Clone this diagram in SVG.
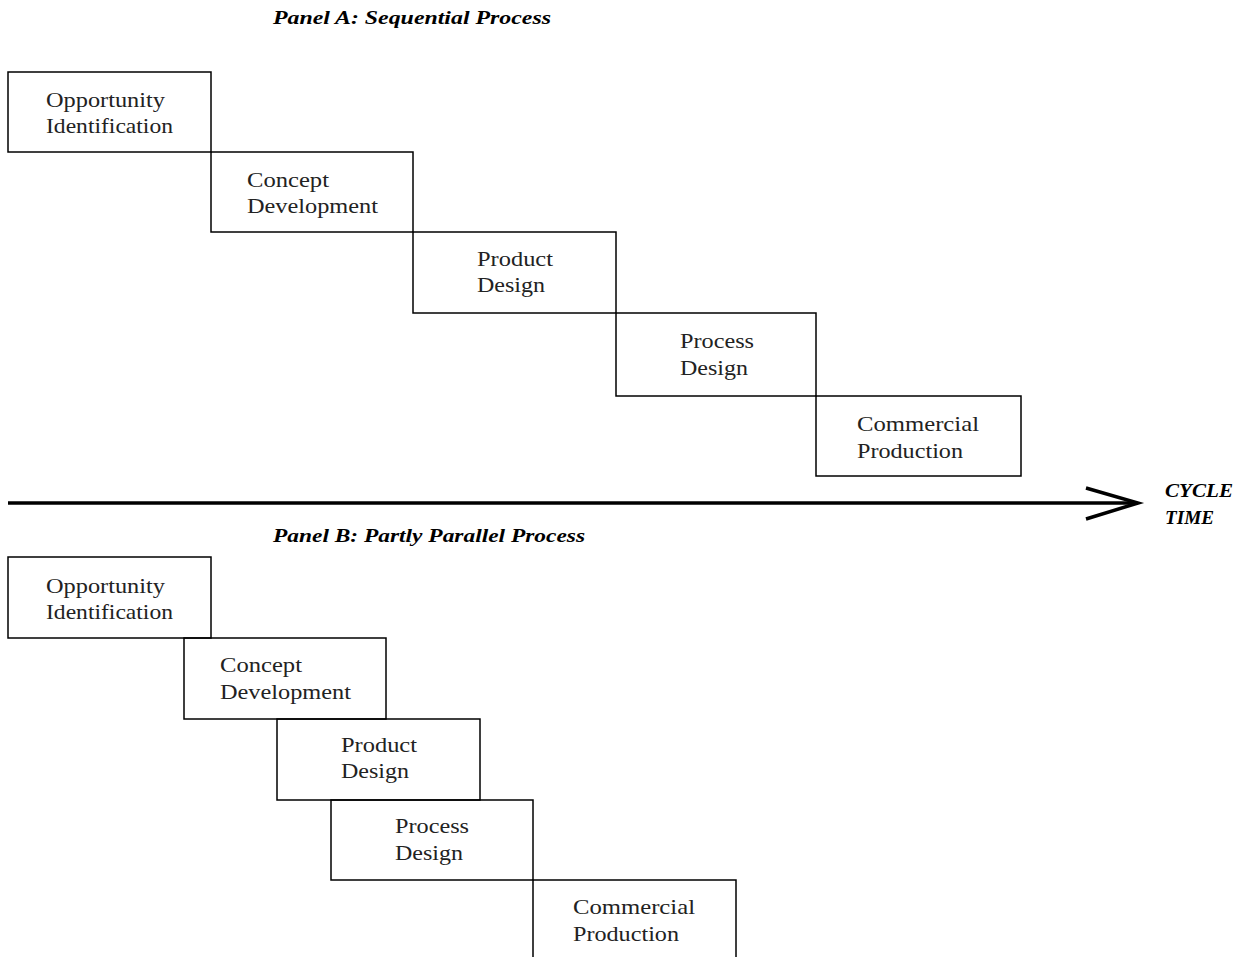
<svg xmlns="http://www.w3.org/2000/svg" width="1247" height="957" viewBox="0 0 1247 957">
<style>
.box{fill:none;stroke:#000;stroke-width:1.5}
.lbl{font-family:"Liberation Serif","DejaVu Serif",serif;font-size:22px;fill:#222}
.ttl{font-family:"Liberation Serif","DejaVu Serif",serif;font-size:19px;font-weight:bold;font-style:italic;fill:#000}
</style>
<rect width="1247" height="957" fill="#fff"/>
<text class="ttl" x="273" y="24" textLength="278" lengthAdjust="spacingAndGlyphs">Panel A: Sequential Process</text>
<text class="ttl" x="273" y="542" textLength="312" lengthAdjust="spacingAndGlyphs">Panel B: Partly Parallel Process</text>
<g id="a1"><rect class="box" x="8" y="72" width="203" height="80"/><text class="lbl" x="46" y="107" textLength="119" lengthAdjust="spacingAndGlyphs">Opportunity</text><text class="lbl" x="46" y="133" textLength="127" lengthAdjust="spacingAndGlyphs">Identification</text></g>
<g id="a2"><rect class="box" x="211" y="152" width="202" height="80"/><text class="lbl" x="247" y="187" textLength="82" lengthAdjust="spacingAndGlyphs">Concept</text><text class="lbl" x="247" y="213" textLength="131" lengthAdjust="spacingAndGlyphs">Development</text></g>
<g id="a3"><rect class="box" x="413" y="232" width="203" height="81"/><text class="lbl" x="477" y="266" textLength="76" lengthAdjust="spacingAndGlyphs">Product</text><text class="lbl" x="477" y="292" textLength="68" lengthAdjust="spacingAndGlyphs">Design</text></g>
<g id="a4"><rect class="box" x="616" y="313" width="200" height="83"/><text class="lbl" x="680" y="348" textLength="74" lengthAdjust="spacingAndGlyphs">Process</text><text class="lbl" x="680" y="375" textLength="68" lengthAdjust="spacingAndGlyphs">Design</text></g>
<g id="a5"><rect class="box" x="816" y="396" width="205" height="80"/><text class="lbl" x="857" y="431" textLength="122" lengthAdjust="spacingAndGlyphs">Commercial</text><text class="lbl" x="857" y="458" textLength="106" lengthAdjust="spacingAndGlyphs">Production</text></g>
<g id="connectors">
<line x1="8" y1="503" x2="1136" y2="503" stroke="#000" stroke-width="3.5"/>
<polyline points="1086,488 1138,503 1086,519" fill="none" stroke="#000" stroke-width="3.5"/>
</g>
<g id="cycletime"><text class="ttl" x="1165" y="497" textLength="68" lengthAdjust="spacingAndGlyphs">CYCLE</text><text class="ttl" x="1165" y="524" textLength="49" lengthAdjust="spacingAndGlyphs">TIME</text></g>
<g id="b1"><rect class="box" x="8" y="557" width="203" height="81"/><text class="lbl" x="46" y="593" textLength="119" lengthAdjust="spacingAndGlyphs">Opportunity</text><text class="lbl" x="46" y="619" textLength="127" lengthAdjust="spacingAndGlyphs">Identification</text></g>
<g id="b2"><rect class="box" x="184" y="638" width="202" height="81"/><text class="lbl" x="220" y="672" textLength="82" lengthAdjust="spacingAndGlyphs">Concept</text><text class="lbl" x="220" y="699" textLength="131" lengthAdjust="spacingAndGlyphs">Development</text></g>
<g id="b3"><rect class="box" x="277" y="719" width="203" height="81"/><text class="lbl" x="341" y="752" textLength="76" lengthAdjust="spacingAndGlyphs">Product</text><text class="lbl" x="341" y="778" textLength="68" lengthAdjust="spacingAndGlyphs">Design</text></g>
<g id="b4"><rect class="box" x="331" y="800" width="202" height="80"/><text class="lbl" x="395" y="833" textLength="74" lengthAdjust="spacingAndGlyphs">Process</text><text class="lbl" x="395" y="860" textLength="68" lengthAdjust="spacingAndGlyphs">Design</text></g>
<g id="b5"><rect class="box" x="533" y="880" width="203" height="90"/><text class="lbl" x="573" y="914" textLength="122" lengthAdjust="spacingAndGlyphs">Commercial</text><text class="lbl" x="573" y="941" textLength="106" lengthAdjust="spacingAndGlyphs">Production</text></g>
</svg>
